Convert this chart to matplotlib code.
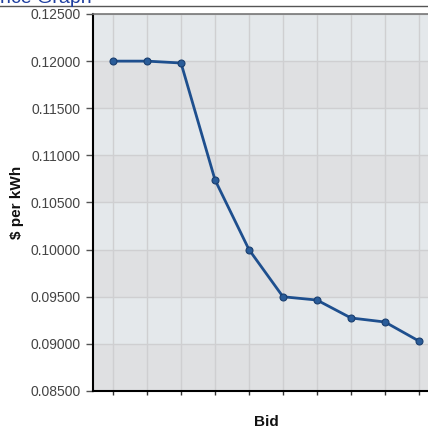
import numpy as np
import matplotlib
matplotlib.use('Agg')
import matplotlib.pyplot as plt

plt.rcParams['font.family'] = ['Liberation Sans', 'DejaVu Sans']

bids = [1, 2, 3, 4, 5, 6, 7, 8, 9, 10]
price = [0.12000, 0.12000, 0.11980, 0.10740, 0.10000,
         0.09500, 0.09465, 0.09275, 0.09232, 0.09030]
yticks = [0.085, 0.090, 0.095, 0.100, 0.105, 0.110, 0.115, 0.120, 0.125]

W, H = 428, 429
fig = plt.figure(figsize=(W/100, H/100), dpi=100)
ax = fig.add_axes([93/W, (H-391)/H, (440-93)/W, (391-14)/H])

# alternating bands
for i in range(len(yticks)-1):
    c = '#dfe0e2' if i % 2 == 0 else '#e4e8eb'
    ax.axhspan(yticks[i], yticks[i+1], color=c, zorder=0, lw=0)

ax.set_facecolor('#e2e4e6')
ax.grid(True, color='#cfcfd1', lw=1.0, zorder=1)
ax.set_axisbelow(True)

ax.plot(bids, price, color='#1e4f8e', lw=2.0, marker='o', ms=5,
        mfc='#2a5c99', mec='#1a3f70', mew=0.8, zorder=3)

ax.set_xlim(0.41, 10.62)
ax.set_ylim(0.085, 0.125)
ax.set_yticks(yticks)
ax.set_yticklabels(['%.5f' % v for v in yticks], fontsize=10, color='#444444')
ax.set_xticks(bids)
ax.set_xticklabels([])
ax.tick_params(axis='y', length=5, width=1, color='#555555', pad=4)
ax.tick_params(axis='x', length=3, width=1, color='#333333')

ax.spines['left'].set_color('black')
ax.spines['left'].set_linewidth(1.5)
ax.spines['bottom'].set_color('black')
ax.spines['bottom'].set_linewidth(1.5)
ax.spines['top'].set_color('#777777')
ax.spines['top'].set_linewidth(1.2)

fig.text(17/W, (H-202)/H, '$ per kWh', fontsize=11, fontweight='bold',
         rotation=90, ha='center', va='center', color='#111111')
fig.text(266/W, (H-422)/H, 'Bid', fontsize=11, fontweight='bold',
         ha='center', va='center', color='#111111')

# title strip cut off at the top
fig.text(-13/W, (H-3)/H, 'Price Graph', fontsize=14, color='#1f3fa0', va='baseline')
fig.add_artist(plt.Line2D([0, 1], [(H-6)/H, (H-6)/H], color='#555555', lw=1.0))

fig.savefig('out.png', dpi=100)
